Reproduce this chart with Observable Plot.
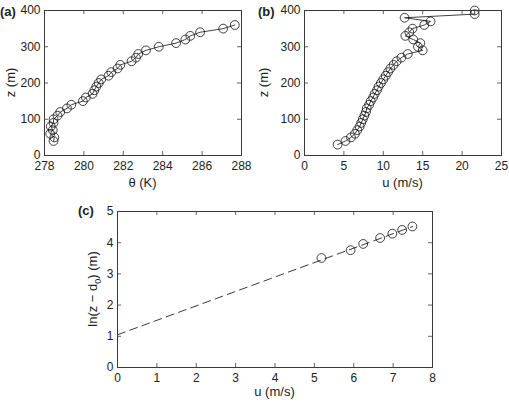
<!DOCTYPE html>
<html>
<head>
<meta charset="utf-8">
<script src="https://cdn.jsdelivr.net/npm/d3@7"></script>
<script src="https://cdn.jsdelivr.net/npm/@observablehq/plot@0.6"></script>
<style>
  body { margin: 0; background: #fff; }
  #fig { position: relative; width: 509px; height: 402px; font-family: "Liberation Sans", Arial, sans-serif; }
  #fig svg { position: absolute; overflow: visible; }
</style>
</head>
<body>
<div id="fig"></div>
<script>
// (a) potential temperature profile
const zA = [40, 50, 60, 70, 80, 90, 100, 110, 120, 130, 140, 150, 160, 170, 180, 190, 200,
            210, 220, 230, 240, 250, 260, 270, 280, 290, 300, 310, 320, 330, 340, 350, 360];
const thetaA = [278.46, 278.5, 278.29, 278.42, 278.32, 278.46, 278.46, 278.66, 278.8, 279.14,
                279.36, 279.95, 280.1, 280.44, 280.53, 280.63, 280.75, 280.88, 281.25, 281.39,
                281.71, 281.85, 282.42, 282.64, 282.76, 283.15, 283.8, 284.68, 285.15, 285.4,
                285.9, 287.07, 287.66];

// (b) wind speed profile
const zB = [30, 40, 50, 60, 70, 80, 90, 100, 110, 120, 130, 140, 150, 160, 170, 180, 190, 200,
            210, 220, 230, 240, 250, 260, 270, 280, 290, 300, 310, 320, 330, 340, 350, 360,
            370, 380, 390, 400];
const uB = [4.2, 5.2, 5.9, 6.4, 6.7, 7.0, 7.2, 7.4, 7.6, 7.8, 7.9, 8.2, 8.4, 8.7, 8.9, 9.2, 9.4,
            9.7, 10.0, 10.3, 10.6, 10.9, 11.3, 11.7, 12.3, 13.1, 15.0, 14.4, 14.7, 13.8, 12.8,
            13.3, 13.7, 15.2, 16.0, 12.7, 21.6, 21.6];

// (c) log-law fit of the near-surface wind
const uC = [5.18, 5.92, 6.24, 6.67, 6.98, 7.23, 7.49];
const lnC = [3.51, 3.76, 3.96, 4.15, 4.29, 4.41, 4.52];
const fitU = [0, 7.5];
const fitLn = [1.05, 4.52];

// tick values
const ticksAx = [278, 280, 282, 284, 286, 288];
const ticksAy = [0, 100, 200, 300, 400];
const ticksBx = [0, 5, 10, 15, 20, 25];
const ticksBy = [0, 100, 200, 300, 400];
const ticksCx = [0, 1, 2, 3, 4, 5, 6, 7, 8];
const ticksCy = [0, 1, 2, 3, 4, 5];

const INK = "#222";
const FRAME = "#3a3a3a";
const fig = document.getElementById("fig");

// MATLAB-style box: inward ticks on all four sides, labels outside
function boxAxes(xt, yt, pw, ph) {
  const len = 4;
  return [
    Plot.tickX(xt, {x: d => d, insetTop: ph - len, stroke: FRAME, strokeWidth: 0.8}),
    Plot.tickX(xt, {x: d => d, insetBottom: ph - len, stroke: FRAME, strokeWidth: 0.8}),
    Plot.tickY(yt, {y: d => d, insetRight: pw - len, stroke: FRAME, strokeWidth: 0.8}),
    Plot.tickY(yt, {y: d => d, insetLeft: pw - len, stroke: FRAME, strokeWidth: 0.8}),
    Plot.axisX({ticks: xt, tickSize: 0, tickPadding: 6, tickFormat: d => String(d), label: null, fill: INK}),
    Plot.axisY({ticks: yt, tickSize: 0, tickPadding: 4, tickFormat: d => String(d), label: null, fill: INK}),
    Plot.frame({stroke: FRAME, strokeWidth: 1})
  ];
}

function panel(cfg) {
  const {left, top, width, height, m, xDomain, yDomain, xt, yt, marks} = cfg;
  const pw = width - m.left - m.right;
  const ph = height - m.top - m.bottom;
  const svg = Plot.plot({
    width, height,
    marginLeft: m.left, marginRight: m.right, marginTop: m.top, marginBottom: m.bottom,
    x: {domain: xDomain},
    y: {domain: yDomain},
    style: {fontSize: "12px", fontFamily: "'Liberation Sans', Arial, sans-serif", background: "transparent", color: INK},
    marks: [...marks, ...boxAxes(xt, yt, pw, ph)]
  });
  svg.style.left = left + "px";
  svg.style.top = top + "px";
  fig.appendChild(svg);
  return {svg: d3.select(svg), m, pw, ph, width, height};
}

function addLabels(p, tag, tagXY, xLabel, xLabelY, yLabelX) {
  const {svg, m, pw, ph} = p;
  svg.append("text").attr("x", tagXY[0]).attr("y", tagXY[1]).attr("text-anchor", "start")
    .attr("font-size", 13).attr("font-weight", "bold").attr("fill", INK).text(tag);
  svg.append("text").attr("x", m.left + pw / 2).attr("y", xLabelY)
    .attr("text-anchor", "middle").attr("font-size", 13).attr("fill", INK).text(xLabel);
  return svg.append("text")
    .attr("transform", `translate(${yLabelX},${m.top + ph / 2}) rotate(-90)`)
    .attr("text-anchor", "middle").attr("font-size", 13).attr("fill", INK);
}

// panel (a)
const pa = panel({
  left: 0, top: 0, width: 255, height: 200,
  m: {left: 44, right: 14, top: 10, bottom: 45},
  xDomain: [278, 288], yDomain: [0, 400], xt: ticksAx, yt: ticksAy,
  marks: [
    Plot.line(zA, {x: (d, i) => thetaA[i], y: d => d, stroke: "#111", strokeWidth: 0.8}),
    Plot.dot(zA, {x: (d, i) => thetaA[i], y: d => d, r: 4.4, stroke: "#111", strokeWidth: 0.8, fill: "none"})
  ]
});
addLabels(pa, "(a)", [0, 16], "θ (K)", 187, 15).text("z (m)");

// panel (b)
const pb = panel({
  left: 255, top: 0, width: 254, height: 200,
  m: {left: 49, right: 8, top: 10, bottom: 45},
  xDomain: [0, 25], yDomain: [0, 400], xt: ticksBx, yt: ticksBy,
  marks: [
    Plot.line(zB, {x: (d, i) => uB[i], y: d => d, stroke: "#111", strokeWidth: 0.8}),
    Plot.dot(zB, {x: (d, i) => uB[i], y: d => d, r: 4.4, stroke: "#111", strokeWidth: 0.8, fill: "none"})
  ]
});
addLabels(pb, "(b)", [3, 16], "u (m/s)", 187, 13).text("z (m)");

// panel (c)
const pc = panel({
  left: 0, top: 195, width: 509, height: 207,
  m: {left: 117, right: 77, top: 16, bottom: 35},
  xDomain: [0, 8], yDomain: [0, 5], xt: ticksCx, yt: ticksCy,
  marks: [
    Plot.line(fitU, {x: d => d, y: (d, i) => fitLn[i], stroke: "#222", strokeWidth: 0.9, strokeDasharray: "8,5"}),
    Plot.dot(uC, {x: d => d, y: (d, i) => lnC[i], r: 4.4, stroke: "#111", strokeWidth: 0.8, fill: "none"})
  ]
});
const yl = addLabels(pc, "(c)", [78, 20], "u (m/s)", 201, 97);
yl.append("tspan").text("ln(z − d");
yl.append("tspan").attr("font-size", 9).attr("dy", 4).text("0");
yl.append("tspan").attr("dy", -4).text(") (m)");
</script>
</body>
</html>
